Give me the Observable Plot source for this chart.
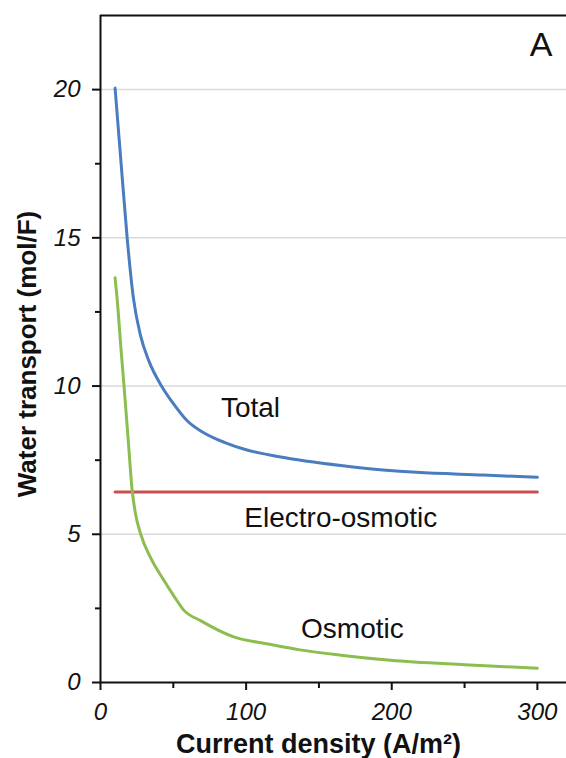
<!DOCTYPE html>
<html>
<head>
<meta charset="utf-8">
<script src="https://cdn.jsdelivr.net/npm/d3@7"></script>
<script src="https://cdn.jsdelivr.net/npm/@observablehq/plot@0.6"></script>
<style>
  html, body { margin: 0; padding: 0; background: #fff; }
  svg { display: block; }
</style>
</head>
<body>
<div id="chart"></div>
<script>
// Current density (A/m2) and water transport (mol/F)
const totalX = [10, 14, 18.3, 22.5, 27.5, 33.2, 42.3, 50.3, 59.5, 70, 85, 100, 126, 172, 217, 263, 300];
const totalY = [20.05, 17.6, 15.0, 13.0, 11.7, 10.85, 9.97, 9.39, 8.83, 8.45, 8.1, 7.85, 7.59, 7.28, 7.09, 7.0, 6.92];

const osmoticX = [10, 11.5, 14, 16, 19, 21.7, 24, 27.5, 34.3, 43.5, 50, 57, 69, 92, 115, 137, 165, 199, 250, 300];
const osmoticY = [13.65, 12.9, 11.3, 10.1, 8.2, 6.5, 5.7, 5.02, 4.22, 3.45, 2.95, 2.45, 2.08, 1.53, 1.3, 1.1, 0.92, 0.75, 0.6, 0.48];

const electroX = [10, 300];
const electroY = [6.43, 6.43];

const seriesLabels = ["Total", "Electro-osmotic", "Osmotic"];
const labelX = [103, 165, 173];
const labelY = [9.27, 5.56, 1.79];

const yMajor = [0, 5, 10, 15, 20];
const yMinor = [2.5, 7.5, 12.5, 17.5];
const xMajor = [0, 100, 200, 300];
const xMinor = [50, 150, 250];

const toPts = (xs, ys) => xs.map((x, i) => ({x, y: ys[i]}));
const total = toPts(totalX, totalY);
const osmotic = toPts(osmoticX, osmoticY);
const electro = toPts(electroX, electroY);
const labels = seriesLabels.map((t, i) => ({t, x: labelX[i], y: labelY[i]}));

const fam = "Liberation Sans, Arial, Helvetica, sans-serif";

const plot = Plot.plot({
  width: 566,
  height: 758,
  marginLeft: 100,
  marginTop: 15,
  marginRight: 0,
  marginBottom: 76,
  style: {fontFamily: fam, background: "#fff", color: "#111"},
  x: {domain: [0, 320]},
  y: {domain: [0, 22.5]},
  marks: [
    Plot.gridY(yMajor.filter(d => d > 0), {stroke: "#d9d9d9", strokeOpacity: 1, strokeWidth: 1.5}),
    Plot.axisY(yMajor, {tickSize: 8, tickPadding: 12, fontSize: 24, fontStyle: "italic", label: null, strokeWidth: 2}),
    Plot.axisY(yMinor, {tickSize: 5, text: null, label: null, strokeWidth: 2}),
    Plot.axisX(xMajor, {tickSize: 8, tickPadding: 12, fontSize: 24, fontStyle: "italic", label: null, strokeWidth: 2}),
    Plot.axisX(xMinor, {tickSize: 6, text: null, label: null, strokeWidth: 2}),
    Plot.ruleX([0], {stroke: "#111", strokeWidth: 2}),
    Plot.ruleY([0], {stroke: "#111", strokeWidth: 2}),
    Plot.ruleY([22.5], {stroke: "#111", strokeWidth: 2}),
    Plot.line(electro, {x: "x", y: "y", stroke: "#c9504f", strokeWidth: 3}),
    Plot.line(osmotic, {x: "x", y: "y", stroke: "#8cbd4f", strokeWidth: 3, curve: "monotone-x"}),
    Plot.line(total, {x: "x", y: "y", stroke: "#4a7cc0", strokeWidth: 3, curve: "monotone-x"}),
    Plot.text(labels, {x: "x", y: "y", text: "t", fontSize: 28, fill: "#111"}),
    Plot.text(["A"], {frameAnchor: "top-right", dx: -14, dy: 16, fontSize: 34, fill: "#111"}),
    Plot.text(["Water transport (mol/F)"], {frameAnchor: "left", textAnchor: "middle", dx: -73, dy: 5, rotate: -90, fontSize: 26, fontWeight: "bold", fill: "#111"}),
    Plot.text(["Current density (A/m²)"], {frameAnchor: "bottom", lineAnchor: "middle", dx: -15, dy: 62, fontSize: 27, fontWeight: "bold", fill: "#111"})
  ]
});
document.getElementById("chart").appendChild(plot);
</script>
</body>
</html>
